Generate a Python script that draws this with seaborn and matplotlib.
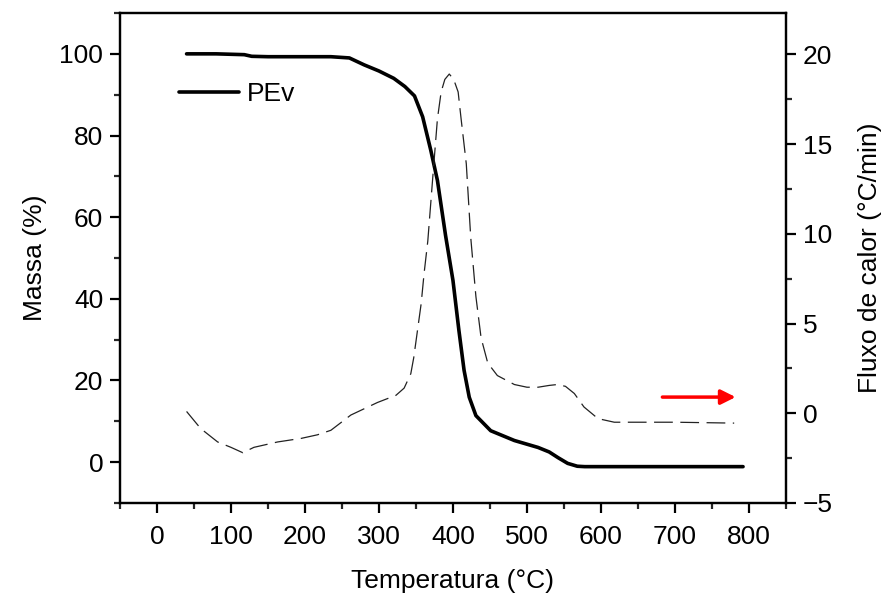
import matplotlib
matplotlib.use("Agg")
import matplotlib.pyplot as plt
from matplotlib.ticker import MultipleLocator
import seaborn as sns
import pandas as pd

# TGA mass curve (left axis)
temp_mass = [40, 80, 118, 128, 150, 200, 235, 260, 280, 300, 320, 335, 348, 359, 370,
             379, 390, 400, 408, 415, 422, 431, 451, 483, 515, 530, 542, 555, 568, 578,
             600, 700, 792]
mass = [100, 100, 99.8, 99.4, 99.3, 99.3, 99.3, 99.0, 97.3, 95.8, 94.0, 92.0, 89.7, 84.6, 76.4,
        69, 55.5, 44.5, 32.3, 22.5, 15.9, 11.4, 7.7, 5.3, 3.6, 2.5, 1.1, -0.3, -1.0, -1.1,
        -1.1, -1.1, -1.1]

# DSC heat flow curve (right axis)
temp_flux = [40, 59, 82, 100, 116, 131, 163, 195, 217, 235, 262, 298, 323, 334, 343, 347,
             352, 357, 361, 366, 373, 379, 384, 389, 395, 401, 407, 411, 418, 424, 431, 438,
             447, 460, 483, 500, 515, 530, 541, 552, 564, 577, 596, 618, 700, 780]
flux = [0.1, -0.85, -1.6, -1.9, -2.2, -1.9, -1.6, -1.4, -1.2, -0.95, -0.1, 0.6, 1.0, 1.4, 2.2, 3.1,
        4.6, 6.1, 7.8, 9.6, 13.3, 16.4, 17.9, 18.6, 18.9, 18.6, 17.9, 16.4, 13.9, 9.8, 6.5, 4.2,
        2.8, 2.1, 1.6, 1.45, 1.45, 1.55, 1.6, 1.5, 1.1, 0.35, -0.3, -0.5, -0.5, -0.55]

legend_label = "PEv"
x_label = "Temperatura (°C)"
y_left_label = "Massa (%)"
y_right_label = "Fluxo de calor (°C/min)"

sns.set_style("ticks")
plt.rcParams["font.family"] = ["Liberation Sans", "DejaVu Sans"]
plt.rcParams["font.size"] = 19
plt.rcParams["text.color"] = "black"
plt.rcParams["axes.labelcolor"] = "black"

fig = plt.figure(figsize=(8.86, 6.0), dpi=100)
ax = fig.add_axes([0.1354, 0.1617, 0.7517, 0.8166])
ax2 = ax.twinx()

df_mass = pd.DataFrame({"T": temp_mass, "m": mass})
df_flux = pd.DataFrame({"T": temp_flux, "f": flux})

sns.lineplot(data=df_mass, x="T", y="m", ax=ax, color="black", linewidth=2.6,
             label=legend_label, sort=False)
sns.lineplot(data=df_flux, x="T", y="f", ax=ax2, color="#222222", linewidth=0.9,
             sort=False, legend=False)
ax2.lines[0].set_dashes((15, 6))

ax.set_xlim(-50, 850)
ax.set_ylim(-10, 110)
ax2.set_ylim(-5, 22.3)

ax.xaxis.set_major_locator(MultipleLocator(100))
ax.xaxis.set_minor_locator(MultipleLocator(50))
ax.yaxis.set_major_locator(MultipleLocator(20))
ax.yaxis.set_minor_locator(MultipleLocator(10))
ax2.yaxis.set_major_locator(MultipleLocator(5))
ax2.yaxis.set_minor_locator(MultipleLocator(2.5))

for a in (ax, ax2):
    for s in a.spines.values():
        s.set_linewidth(1.6)
        s.set_color("black")
    a.tick_params(which="major", direction="out", length=7, width=1.6, labelsize=19,
                  colors="black", labelcolor="black")
    a.tick_params(which="minor", direction="out", length=4, width=1.6)
ax.tick_params(axis="x", pad=9)
ax.tick_params(axis="y", pad=5)
ax2.tick_params(axis="y", pad=5)

ax.set_xlabel(x_label, fontsize=19, labelpad=14, color="black")
ax.set_ylabel(y_left_label, fontsize=19, labelpad=9, color="black")
ax2.set_ylabel(y_right_label, fontsize=19, labelpad=18, color="black")

# red arrow pointing to right axis
ax2.annotate("", xy=(782, 0.9), xytext=(683, 0.9),
             arrowprops=dict(arrowstyle="-|>", color="red", lw=2.5,
                             mutation_scale=22, shrinkA=0, shrinkB=0))

leg = ax.legend(loc="center left", bbox_to_anchor=(0.088, 0.835), frameon=False,
                handlelength=2.3, handletextpad=0.3, borderpad=0, borderaxespad=0,
                fontsize=19)
for t in leg.get_texts():
    t.set_color("black")

fig.savefig("out.png", dpi=100)
